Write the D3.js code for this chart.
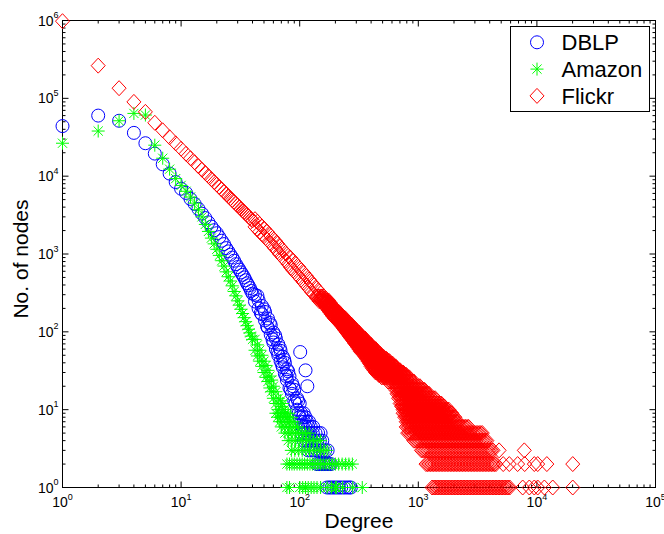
<!doctype html><html><head><meta charset="utf-8"></head><body style="margin:0;background:#fff">
<script src="https://d3js.org/d3.v7.min.js"></script>
<script>
// degree distributions
const dblpDeg = [1,2,3,4,5,6,7,8,9,10,11,12,13,14,15,16,17,18,19,20,21,22,23,24,25,26,27,28,29,30,31,32,33,34,35,36,37,38,39,40,
  42,42,45,45,48,48,51,51,54,54,57,57,60,60,63,63,66,66,69,69,72,72,75,75,78,78,82,82,86,86,90,90,95,95,100,100, 101,112,116,
  44,47,50,53,56,59,62,65,68,71,74,77,80,84,88,92,97];
const dblpCnt = [44000,60000,51500,36000,26500,19500,14200,10800,8400,6900,6100,5100,4400,3800,3300,2900,2550,2250,2020,1850,
  1650,1480,1340,1190,1080,980,900,820,740,680,630,580,540,500,460,420,395,365,335,310,
  300,245,255,200,215,168,180,140,148,112,122,92,98,73,82,60,69,50,57,42,48,35,40,29,33,24,27,19,22,16,18,13,14,10,12,8, 55,32,20,
  290,175,195,118,130,80,90,55,62,38,44,27,31,18,20,12,13];
// low counts: [count, degrees seen with that count]
const dblpLow = [
  [9, [98,103,108]],
  [8, [100,106,112]],
  [7, [103,109,115,120]],
  [6, [106,112,118,124,130]],
  [5, [104,110,116,122,129,136,143,150]],
  [4, [108,114,120,127,134,141,148,155]],
  [3, [118,125,132,140,148,156,164,172]],
  [2, [140,146,152,158,164,170,176,183]],
  [1, [170,178,186,195,204,214,224,236,248,260,270]]
];

const amazonDeg = [1,2,3,4,5,6,7,8,9,10,11,12,13,14,15,16,17,18,19,20,21,22,23,24,25,26,27,28,29,30,31,32,33,34,35,36,37,38,39,40,
  42,42,44,44,46,46,48,48,50,50,52,52,54,54,56,56,58,58,60,60,63,63,66,66, 69,70,72,74];
const amazonCnt = [26500,38000,51500,64000,61000,25000,17000,12300,9300,7600,6400,5400,4500,3700,3000,2400,1950,1600,1350,1150,
  960,820,700,590,510,450,390,330,290,250,220,195,172,152,135,120,108,97,88,80,
  80,58,68,49,58,42,50,36,42,30,37,26,32,23,27,19,24,17,20,14,17,12,14,10, 13,11,12,10];
const amazonLow = [
  [9, [63,67,72,76,80]],
  [8, [65,69,74,79,84]],
  [7, [68,72,77,82,88]],
  [6, [70,75,80,86,92,96]],
  [5, [75,80,86,92,98,105,112,120]],
  [4, [80,86,92,99,106,114,122,131,140,150]],
  [3, [85,91,98,105,113,121,130,140,150,160,170]],
  [2, [78,82,86,90,95,100,105,110,116,122,128,135,142,150,158,167,177,188,200,213,228,244,260,278]],
  [1, [78,82,100,106,112,118,125,132,140,150,170,185,200,205,230,280,337]]
];

const flickrDeg = [1,2,3,4,5,6,7,8,9,10,11,12,13,14,15,16,17,18,19,20,21,22,23,24,25,26,27,28,29,30,31,32,33,34,35,36,37,38,39,40,
  42,42,44,44,46,46,48,48,50,50,53,53,56,56,59,59,62,62,65,65,68,68,72,72,76,76,80,80,84,84,88,88,93,93,98,98,
  103,103,108,108,114,114,120,120,126,126,132,132,139,139,146,146];
const flickrCnt = [980000,263000,135000,90000,67000,48500,38800,31600,26400,22500,19400,17000,15100,13400,12100,11000,10000,9150,8430,7790,
  7230,6730,6290,5890,5535,5210,4920,4650,4410,4190,3985,3795,3620,3458,3307,3170,3039,2917,2803,2700,
  2800,2230,2600,2070,2420,1930,2260,1800,2120,1690,1930,1540,1760,1400,1610,1290,1480,1180,1360,1080,1240,990,1130,900,
  1030,820,950,740,885,670,815,615,740,560,680,515,620,470,570,430,520,390,470,355,430,325,395,300,360,272,328,248];
// the wide noisy tail: degrees present in the plot ...
const flickrGrid = [130,134,138,142,146,151,155,160,165,170,175,180,185,191,197,203,209,215,221,228,235,242,249,257,264,272,281,289,298,307,
  316,325,335,345,356,366,377,389,400,412,425,437,451,464,478,492,507,523,538,555,571,588,606,624,643,662,682,703,724,745,
  768,791,814,839,864,890,917,944,972,1002,1032,1063,1094,1127,1161,1196,1232,1269,1307,1346,1386,1428,1470,1515,1560,1607,1655,1705,1756,1808,
  1863,1918,1976,2035,2096,2159,2224,2291,2359,2430,2503,2578,2655,2735,2817,2901,2989,3078,3171,3266,3364,3465,3568,3675,3786,3899,4016,4137,4261,4389,
  4520,4656,4795,4939,5087,5240,5397,5559,5726,5898,6075];
// ... and for each count, the degree span it covers: [count, from, to]
const flickrRows = [
  [285,138,163],[268,143,169],[253,148,175],[238,152,181],[225,157,187],[212,162,193],[200,168,200],[189,173,207],
  [178,179,215],[168,185,224],[158,191,233],[149,197,242],[140,204,252],[132,211,262],[124,218,273],[117,225,283],
  [110,232,294],[104,240,306],[98,247,318],[92,254,331],[87,261,344],[82,269,358],[77,277,372],[72,286,387],
  [68,295,403],[64,304,420],[60,313,438],[56,325,462],[52,337,488],[48,349,516],[45,361,547],[42,373,579],
  [39,385,613],[36,398,646],[34,411,680],[32,423,716],[30,436,755],[28,458,799],[26,482,846],[23,542,940],
  [20,625,1045],[18,640,1143],[16,656,1260],[14,676,1410],[12,698,1600],[11,713,1700],[10,728,1820],[9,745,1930],
  [8,762,2050],[7,776,2200],[6,790,2700],[5,803,3560],[4,908,3840],[3,1040,4320],[2,1160,4600],[1,1300,6070]
];
const flickrTailDeg = [7590,8630,9510,10160,11560,13600,20060, 5200,5850,6880,7890,9510,10160,12130,20060, 4800,7830];
const flickrTailCnt = [1,1,1,1,1,1,1, 2,2,2,2,2,2,2,2, 3,3];

const xMajor = [1,10,100,1000,10000,100000];
const xExp = ["0","1","2","3","4","5"];
const yMajor = [1,10,100,1000,10000,100000,1000000];
const yExp = ["0","1","2","3","4","5","6"];
const names = ["DBLP","Amazon","Flickr"];
const colors = ["#0000ff","#00ff00","#ff0000"];

const font = "'Liberation Sans', Arial, Helvetica, sans-serif";
const L = 62.5, R = 655.5, T = 20.5, B = 487.5;

var svg = d3.select("body").append("svg")
  .attr("width", 664)
  .attr("height", 534)
  .style("font-family", font);

var x = d3.scaleLog().domain([1, 1e5]).range([L, R]);
var y = d3.scaleLog().domain([1, 1e6]).range([B, T]);

const xMinor = x.ticks().filter(v => !xMajor.includes(v));
const yMinor = y.ticks().filter(v => !yMajor.includes(v));

function ticks(axis, pos, vals, size) {
  svg.append("g")
    .attr("transform", pos)
    .call(axis.tickValues(vals).tickSize(size).tickFormat("").offset(0))
    .call(g => g.select(".domain").remove());
}
ticks(d3.axisBottom(x), `translate(0,${B})`, xMajor, -6);
ticks(d3.axisBottom(x), `translate(0,${B})`, xMinor, -3);
ticks(d3.axisTop(x), `translate(0,${T})`, xMajor, -6);
ticks(d3.axisTop(x), `translate(0,${T})`, xMinor, -3);
ticks(d3.axisLeft(y), `translate(${L},0)`, yMajor, -6);
ticks(d3.axisLeft(y), `translate(${L},0)`, yMinor, -3);
ticks(d3.axisRight(y), `translate(${R},0)`, yMajor, -6);
ticks(d3.axisRight(y), `translate(${R},0)`, yMinor, -3);

svg.append("rect")
  .attr("x", L).attr("y", T)
  .attr("width", R - L).attr("height", B - T)
  .attr("fill", "none").attr("stroke", "#000");

// tick labels 10^k
xMajor.forEach(function(v, i) {
  var t = svg.append("text").attr("x", x(v)).attr("y", 507).attr("text-anchor", "middle").attr("font-size", 14);
  t.append("tspan").text("10");
  t.append("tspan").attr("dy", -7.5).attr("font-size", 9).text(xExp[i]);
});
yMajor.forEach(function(v, i) {
  var t = svg.append("text").attr("x", 58.5).attr("y", y(v) + 5).attr("text-anchor", "end").attr("font-size", 14);
  t.append("tspan").text("10");
  t.append("tspan").attr("dy", -7.5).attr("font-size", 9).text(yExp[i]);
});

svg.append("text").attr("x", 359).attr("y", 528).attr("text-anchor", "middle").attr("font-size", 21).text("Degree");
svg.append("text").attr("transform", "translate(28,259) rotate(-90)").attr("text-anchor", "middle").attr("font-size", 21).text("No. of nodes");

// points
var dblpPts = dblpDeg.map((d, i) => [d, dblpCnt[i]]);
dblpLow.forEach(([c, ds]) => ds.forEach(d => dblpPts.push([d, c])));
var amazonPts = amazonDeg.map((d, i) => [d, amazonCnt[i]]);
amazonLow.forEach(([c, ds]) => ds.forEach(d => amazonPts.push([d, c])));
var flickrPts = flickrDeg.map((d, i) => [d, flickrCnt[i]]);
flickrRows.forEach(([c, lo, hi]) => flickrGrid.filter(d => d >= lo && d <= hi).forEach(d => flickrPts.push([d, c])));
flickrTailDeg.forEach((d, i) => flickrPts.push([d, flickrTailCnt[i]]));

const star = "M-6.5,0H6.5M0,-6.5V6.5M-4.6,-4.6L4.6,4.6M-4.6,4.6L4.6,-4.6";
const diamond = "M0,-7.5L7,0L0,7.5L-7,0Z";

svg.append("g").selectAll("circle")
  .data(dblpPts).enter().append("circle")
  .attr("cx", d => x(d[0])).attr("cy", d => y(d[1])).attr("r", 6.5)
  .attr("fill", "none").attr("stroke", colors[0]);

svg.append("g").selectAll("path")
  .data(amazonPts).enter().append("path")
  .attr("transform", d => "translate(" + x(d[0]) + "," + y(d[1]) + ")")
  .attr("d", star).attr("fill", "none").attr("stroke", colors[1]);

svg.append("g").selectAll("path")
  .data(flickrPts).enter().append("path")
  .attr("transform", d => "translate(" + x(d[0]) + "," + y(d[1]) + ")")
  .attr("d", diamond).attr("fill", "none").attr("stroke", colors[2]);

// legend
var lg = svg.append("g");
lg.append("rect").attr("x", 510.5).attr("y", 26.5).attr("width", 139).attr("height", 85)
  .attr("fill", "#fff").attr("stroke", "#000");
names.forEach(function(n, i) {
  var cy = 42.3 + i * 26.8;
  if (i == 0) lg.append("circle").attr("cx", 537).attr("cy", cy).attr("r", 6.5).attr("fill", "none").attr("stroke", colors[0]);
  if (i == 1) lg.append("path").attr("transform", "translate(537," + cy + ")").attr("d", star).attr("fill", "none").attr("stroke", colors[1]);
  if (i == 2) lg.append("path").attr("transform", "translate(537," + cy + ")").attr("d", diamond).attr("fill", "none").attr("stroke", colors[2]);
  lg.append("text").attr("x", 561.5).attr("y", cy + 7.8).attr("font-size", 22).text(n);
});
</script></body></html>
